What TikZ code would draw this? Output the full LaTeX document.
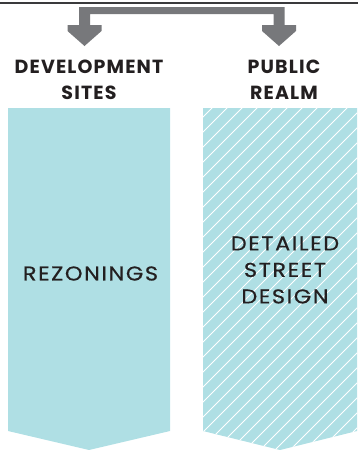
\documentclass[tikz,border=0pt]{standalone}
\usepackage{fontspec}
\newfontfamily\pophead[LetterSpace=6]{Poppins}
\newfontfamily\popbody[LetterSpace=8,FakeStretch=1.12,FakeBold=0.6]{Poppins}
\definecolor{teal}{HTML}{AFDFE4}
\definecolor{arrowgray}{HTML}{77787B}
\definecolor{ink}{HTML}{231F20}
\definecolor{rule}{HTML}{3A3A3C}
\begin{document}
\begin{tikzpicture}[x=1pt,y=-1pt,
  colbox/.style={fill=teal,draw=none},
  head/.style={font=\pophead\bfseries\fontsize{19}{26}\selectfont,text=ink,align=center,inner sep=0pt},
  body/.style={font=\popbody\fontsize{20}{26.5}\selectfont,text=ink,align=center,inner sep=0pt},
  hatchline/.style={white,line width=0.8pt}]
\useasboundingbox (0,0) rectangle (358,450);
% top rule
\draw[rule,line width=1.5pt] (0,3) -- (358,3);
% bracket arrow
\fill[arrowgray] (79,7) -- (284.5,7) -- (284.5,25) -- (296,25) -- (296,31) -- (279,46) -- (262,31) -- (262,25) -- (273.5,25) -- (273.5,14)
  -- (90,14) -- (90,25) -- (101.5,25) -- (101.5,31) -- (84.5,46) -- (67.5,31) -- (67.5,25) -- (79,25) -- cycle;
% columns
\path[colbox] (8,108) -- (170,108) -- (170,431) -- (89,450) -- (8,431) -- cycle;
\path[colbox] (203,108) -- (357,108) -- (357,431) -- (280,450) -- (203,431) -- cycle;
\begin{scope}
  \clip (203,108) -- (357,108) -- (357,431) -- (280,450) -- (203,431) -- cycle;
  \foreach \i in {-25,...,25} \draw[hatchline] (205+\i*15,460) -- ++(400,-400);
\end{scope}
% labels
\node[head] (dev) at (89,80) {DEVELOPMENT\\SITES};
\node[head] (pub) at (284,80) {PUBLIC\\REALM};
\node[body] (rez) at (90.5,273.5) {REZONINGS};
\node[body] (det) at (285,270) {DETAILED\\STREET\\DESIGN};
\end{tikzpicture}
\end{document}
